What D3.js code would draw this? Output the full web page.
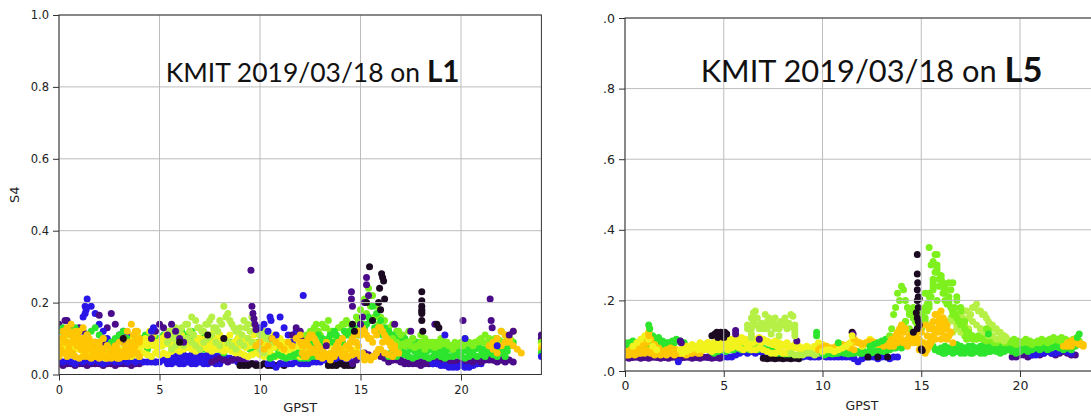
<!DOCTYPE html>
<html>
<head>
<meta charset="utf-8">
<script src="https://cdn.jsdelivr.net/npm/d3@7"></script>
<style>
  body { margin: 0; background: #fff; }
  svg text { font-family: "DejaVu Sans", sans-serif; }
</style>
</head>
<body>
<svg id="chart" width="1091" height="416"></svg>
<script>
// S4 samples, one track per satellite pass: [colour index, start hour, S4 x100 every STEP hours]
const STEP = 0.2;
const xTicks = [0, 5, 10, 15, 20];
const yTicks = [0, 0.2, 0.4, 0.6, 0.8, 1.0];
const satColors = ['#1c0a22', '#4b0c8c', '#2a16e6', '#2ee52e', '#7ef01e', '#b6f046', '#f2f21e', '#ffc604'];

const l1Tracks = [
  [1, 0, [3,2.5,3,3,2.5,3,3,2.5,3,3,3,2.5,3,3,2.5,3,3,3,2.5,3,3]],
  [2, 0, [4,3.5,4,3.5,3,4,3.5,4,3.5,4,3.5,3,3.5,4,3.5,3.5,4,3.5,4,3.5,4,3.5,3.5,3.5,3.5]],
  [2, 4.8, [3.5,3.5,4,4,4.5,5,5,5.5,5,5.5,6,5.5,5,5.5,5,5,4.5,5,4.5,4,4,3.5]],
  [2, 5.4, [3,3,3.5,3,3,3.5,3,3,3.5,3,3,3.5,3,3]],
  [2, 5.5, [4,4.5,4,4.5,5,4.5,4,4.5,5,4.5,4,4.5,5,4.5,4,4.5,4,3.5]],
  [1, 7.6, [3.5,4,4.5,4,3.5,4,4.5,4,3.5,3,3,3]],
  [0, 9, [2.5,2.5,2.5,3,2.5,2.5,3,2.5,2.5,2.5,3,2.5]],
  [2, 10.4, [3,3,2,3,3,3,3,3.5,3,3,3,3.5,3.5,3.5,4,3.5,4,4,4.5,4,4,3.5]],
  [0, 13.4, [2.5,2.5,2.5,3,2.5,2.5,2.5]],
  [1, 14.6, [3,4,5,6,5.5,5,6,5,4.5,5,4,4,3.5,3,3,3,3,2.5,3,3,3,3,3,3,3,3,3,3,3,3,3,3]],
  [1, 16.4, [3.5,4,4.5,4,3.5,4,4.5,4,3.5,4,4.5,4,4,3.5,4,4.5,4,3.5,4,4,4.5,4,3.5,4,4.5,4,4,4.5,4,3.5]],
  [2, 18.6, [3,3,2.5,2.5,2,2,2,2.5,2,2,2.5,3,3]],
  [1, 20.6, [3.5,4,3.5,4,4.5,4,3.5,4,4.5,4,3.5]],
  [1, 0, [14,12,15,13,11,13,12,10,9,9,8,9,13,17,14,11,9,8,9,10,9]],
  [2, 0.8, [10,12,16,21,19,17,14,12,10,9,8,10,12,11,9,8,10]],
  [3, 0, [12,13,11,12,13,10,9,11,12,13,11,10,8,9,10,11,12,10,9,8,7]],
  [3, 4, [8,9,7,10,8,9,11,10,8,7,9,8,10,12,9,8,7,9,10,8,7,6,8,9,7,8,9,10,8,7,6,7,8,9,10,8,7,6,5,5,4.5,4.5,4.5,5,5]],
  [3, 4.1, [10,11,9,12,10,8,9,11,10,9,12,11,10,9,8,10,11,9,8,7,9,10,8,9,10,9,8,7,8,9,10,11,9,8,7]],
  [6, 0, [7,8,7,9,8,7,6,7,8,7,6,7,6,5,6,7,6,7,8,7,6]],
  [6, 0.1, [9,10,8,7,9,10,8,6,5,6,5,4.5,5,5.5,5,6,5,6,7,8]],
  [6, 3.4, [6,7,8,7,9,8,10,9,8,9,10,8,9,11,10,9,8,9,10,9,8,9,10,11,10,9,8,7,8,9,10,9,8,9,8,7,8,9,10,9,8,7,8,9,8,7,6,7,8,9,8,9,10,9,8,7,6,7]],
  [6, 3.5, [7,8,7.5,8,9,8.5,8,7.5,8,8.5,9,8,7.5,8,9,8,7.5,8,8.5,8,7.5,8,9,8,7,7.5,8,8.5,8,7.5,8,9,8.5,8,7.5,7,7.5,8,7,6.5,7,7.5,7,6.5,7]],
  [6, 3.6, [5,5.5,5,6,5.5,5,6,5.5,6,5.5,6.5,7,6.5,7,7.5,7,6.5,7,7.5,7,6.5,7,7,6.5,7,6.5,6,6,5.5,5,5.5,6,5.5,5,6,5.5,5,6,5.5,5,6,5.5,5,6,5.5]],
  [6, 3.7, [10,11,9,10,12,11,9,10,11,12,10,9,11,10,12,11,10,9,10,11,12,10,9,10,11,9,10,11,10,9,11,12,10,9,10,11,10,9,8,9,10,11,9,10,8]],
  [5, 5.4, [9,11,13,12,10,14,16,15,13,12,14,16,13,15,19,17,14,12,13,15,14,16,13,11,12,10,9]],
  [5, 5.5, [12,10,11,13,14,12,11,13,12,14,15,13,12,14,16,15,13,12,11,13,12,14,12,11,10,9]],
  [5, 5.6, [7,8,9,8,10,9,8,7,9,10,11,9,8,10,9,8,7,9,8,10,9,8,7,6]],
  [3, 10.5, [4.5,5,5.5,5,4.5,5,5.5,6,5.5,5,5.5,6,5.5,5]],
  [2, 10, [13,14,12,10,11,16,13,11,9,12,10,8,9,7]],
  [1, 11.6, [11,13,12,10,9]],
  [1, 4.6, [10,12,14,13,11,14,12,10,9]],
  [4, 12.2, [9,10,12,14,11,13,15,12,10,13,14,12,14,16,18,21,24,22,19,16,15,13,14,12,11,10,12,10,9,11,10,9,8,9,8,9,8]],
  [4, 12.3, [11,12,13,12,14,13,12,11,13,14,15,14,13,15,14,17,19,16,14,13,12,11,10,12,11]],
  [3, 12.5, [9,10,11,10,9,11,12,10,9,11,12,13,11,12,14,15,13,12,11,10,9,8,9,10,8]],
  [3, 12.6, [7,8,9,8,10,9,11,10,12,11,13,12,14,13,16,19,17,15,13,12,11,10,9,10,9,8,9,8,7,8,7,8,7,6,7,8,7,6,7,6,7,8,7,6,7,8,9,8,7,8,9]],
  [3, 16.4, [5,5.5,5,6,5.5,5,4.5,5,5.5,5,4.5,5,5.5,5,4.5,5,5,5.5,5,4.5,5,5.5,5,5.5,5,6,5.5,5,6,5]],
  [3, 16.5, [6,6.5,7,6.5,6,7,6.5,7,6,6.5,7,6.5,6,7,7.5,7,6.5,6,6.5,7,6.5,7,7.5,7,6.5,7,7,6.5,7,6.5]],
  [4, 16.6, [10,9,11,8,9,10,8,9,7,8,9,8,10,9,8,7,8,9,10,9,8,9,10,11,10,9,10,12,11,10]],
  [4, 16.7, [8,7.5,8.5,9,8,7.5,8,8.5,9,8,7.5,8,8.5,9,8,9,8.5,8,9,8.5,9,9.5,9,8.5,9,10,9.5,9,10,9.5]],
  [7, 0, [5,6,5,5.5,5,4.5,5,5,4.5,5,4.5,5,4.5,4.5,5,4.5,5,5,5.5,6,5]],
  [7, 0, [8,10,9,11,9,12,10,11,8,9,8,7,8,7,6.5,6,6,7,7.5,8,9]],
  [7, 0.1, [7,9,8,10,11,9,8,10,9,7,6,5,6,5.5,5,6,7,8,9,10]],
  [7, 0.1, [10,11,12,9,8,7,9,8,6,7,6,5,5.5,6,7,6,8,9,11,12]],
  [7, 0.2, [12,13,14,12,10,13,11,9,7,9,10,8,7,8,9,10,12,14,12,10]],
  [7, 0.3, [6,7,6,8,7,6.5,7,6,5.5,6,5,5.5,5,4.5,5,5.5,6,7,6]],
  [7, 9.8, [8,9,7,8,10,9,8,7,9,8,10,11,9,8,7,6]],
  [7, 12, [9,8,10,11,9,7,6,5,6,8,7,6,8,10,9,11,12,10,9,11,13,11,9,7,6]],
  [7, 12.1, [6,5,6,7,5,4.5,5,4,5,6,5,4.5,7,9,8,6,5,4,5,7,9,10,8,7,6]],
  [7, 12.1, [8,9,11,10,8,7,9,6,7,9,10,8,9,11,12,13,11,10,12,13,12,10,9,8]],
  [7, 12.2, [5,6,7,6,5,6,5.5,5,6.5,7,6,5,5.5,6,5,4,4.5,5,6,7,6,5.5,5]],
  [7, 21.4, [8,9,10,12,11,9,8,7,6]],
  [7, 21.6, [7,6,8,9,10,12]]
];

// single samples: [colour index, hour, S4 x100]
const l1Points = [
  [2,1.3,19],[2,1.35,18],[2,1.3,17],[1,2.0,16.5],[1,0.3,15],[2,4.6,12],[2,4.7,13],
  [1,9.55,29],[1,9.6,19],[1,9.65,17],[1,9.7,15.5],[1,9.75,14],[1,9.8,12.5],
  [2,12.15,22],[2,10.5,16],[2,10.55,15],[0,8.2,10],[0,7.4,11],[0,6,9],[0,3.2,10],
  [1,14.55,23],[1,14.55,21],[1,14.6,19],[1,15.3,27],[1,15.3,25],[1,15.4,22],[1,15.2,20],[1,15.1,16],[1,15,14],
  [1,16.7,14],[1,17.5,12],[1,18.7,14],[1,20.1,15],[1,21.45,21],[1,21.5,15],[1,21.55,13],[1,13.3,8],
  [0,15.45,30],[0,16.05,28],[0,16.1,27],[0,16.15,26],[0,15.95,24],[0,15.3,20],[0,15.9,20],[0,16,18],
  [0,15.6,15],[0,14.7,12],[0,14.6,14],[0,16.2,21],
  [0,18.05,23],[0,18.05,20.5],[0,18.05,19],[0,18.05,18],[0,18.05,17.5],[0,18.05,17],[0,18.05,15],[0,18.1,12],
  [0,18.8,14],[0,18.9,13],[2,19.2,11],[2,20.2,10],[2,21.8,8],[1,22.4,11],[1,22.6,12],
  [1,24,11],[1,24,10],[4,24,9],[6,24,8],[7,24,7],[3,24,6],[2,24,5]
];

const l5Tracks = [
  [2, 4.2, [4,4,4,4.2,4,4,4,4.5,5,5.5,5,5.5,5,5.5,5,4.5,4.2,4,4,4,4.2,4,4,4,4,4.2,4,4,4,4.2,4,4,4,4,4,4.2]],
  [1, 0, [3.8,3.6,3.8,3.9,3.6,3.8,3.6,3.9,3.8,3.6,3.8,3.6,3.9,3.8,3.6,3.8,3.9,3.6,3.8,3.6,3.9,3.8,3.6,3.8,3.6]],
  [0, 7, [3.6,3.5,3.6,3.5,3.6,3.5,3.6,3.5,3.6,3.5]],
  [2, 11.2, [4,4,3.5,2.6,3.5,4,4,4,3.5,4,4,3.5,4,4]],
  [7, 0, [6,7,6.5,7,8,9,10,8,7,6,5,6,7,6,5,6,6.5,7,6,7,7.5,8,7]],
  [7, 0, [5,4.5,5,5.5,5,5,6,5.5,5,4.5,5,5,5.5,5,5,5,5.5,5,5.5,5]],
  [3, 0, [8,8,8.5,8,7.5,8,9,10,9,8,7.5,8,8.5,9,8.5,8]],
  [3, 0.1, [7.5,8,8,7.5,7,7.5,8.5,9,9.5,8.5,8,7.5,8,8.5,8]],
  [7, 0.1, [5.5,6,6.5,7,7.5,8,9,7.5,6.5,5.5,6,6.5,6,5.5,6,7,6.5,6,6.5,7,6.5,7]],
  [7, 0.1, [4.5,5,4.5,5,5.5,6,5,4.5,5,5.5,4.5,5,4.5,5,5.5,4.5,5,5.5,5]],
  [6, 0.4, [7,8,9,10,9,7,6]],
  [3, 4.4, [5.5,6,6.5,6,6,6.5,7,6.5,7,6.5,6,6.5,7,6.5,6,6,5.5,5.5,5,5,5]],
  [3, 4.5, [5,5.5,6,5.5,6,6,6.5,6,6.5,6,6.5,6,6.5,6,5.5,5.5,5,5,4.8,4.8]],
  [6, 2.8, [6,6.5,7,7.5,7,8,7.5,8,7,7.5,8,8.5,8,9,8.5,8,9,8.5,8,9,9.5,9,8.5,8,8.5,8,7.5,8,7,7.5,7,6.5,7,6.5,7,8,7.5,7]],
  [6, 2.9, [5,5.5,6,6.5,6,7,6.5,7,6.5,7,7.5,8,7.5,8,7.5,8.5,8,7.5,8,8.5,9,8.5,8,7.5,8,7,7.5,7,6.5,7,6,6.5,6,6.5,6,7,6.5]],
  [6, 4, [6,6,5.5,6,6,6.5,6,6.5,7,6.5,6,6.5,6,6,6.5,6,5.5,5,5,5.5,5,5]],
  [6, 4.1, [7,7.5,8,7.5,8,8.5,9,8.5,9,9.5,9,8.5,9,8.5,8,8.5,8,7.5,7,7.5,7,6.5,7,6.5,6]],
  [5, 6.2, [13,15,17,13,12,14,13,15,12,14,13,16,12]],
  [5, 6.2, [12,12,13,12,12.5,12,13,12,12.5,13,12,12.5,13]],
  [5, 6.3, [12.5,14,15,13.5,13,15,14,13,14,15,13.5,12.5]],
  [5, 8.4, [5,4.5,4.5,4.5,5,5,4.5,5,5.5,5]],
  [3, 10, [5,5,5.5,5,5,5.5,5.5,5,5,5.5,5,5,5.5,5.5,5,6,5.5,6,6.5,7,6.5]],
  [3, 10.1, [4.5,5,4.8,5,5.5,5,4.8,5,5.5,5,5.5,5,5.2,5.5,6,5.5,6.5,7,6.5,7]],
  [7, 9.8, [6,6.5,7,6.5,6,7,7.5,7,6.5,6]],
  [7, 9.9, [6.5,7,6,6.5,7,6.5,7,7.5,8,8.5,8,7.5,8,8.5,8,7.5,7,7.5]],
  [6, 10, [5.5,6,6,5.5,6,6.5,7,8,9,8,7,8,9,8]],
  [7, 11.6, [9,8,7.5,8,8.5,8,7.5,8,8.5,7]],
  [3, 12.4, [7,7.5,8,8.5,9,8.5,9,10]],
  [1, 19.6, [4,4,4.5,4.5,4,4.5,5,4.5,5,5.5,5,4.5,5,5.5,5,4.5,4.5]],
  [2, 20.6, [4.5,4.5,5,5,5.5,5,5,5.5,6,5.5,5]],
  [3, 15.6, [7,6,5.5,5,5.5,5,5.5,5,5,5.5,5,5.5,5,5,5.5,6,5.5,5,5.5,6,5.5,5,5.5,6,5.5,6,6.5,6,6.5,6,6.5,7,6.5,6,6.5,6,7,7.5]],
  [3, 15.7, [6,5.5,5,5.5,6,5.5,6,5.5,6,5,5.5,6,5.5,6,5.5,6.5,6,5.5,6,6.5,6,5.5,6,6.5,6,6.5,7,6.5,7,6.5,7,7.5,7,6.5,7]],
  [3, 16, [6.5,7,6.5,7,7.5,7,6.5,7,7,6.5,7,7.5,7,6.5,7,7,7.5,7,6.5,7,7.5,7,7,7.5,8,7.5,8,7.5,8,8.5,8,8.5,8]],
  [4, 17.2, [10,11,10,9,12,10,9,8.5,8,9,8,8.5,8,7.5,8,8.5,8,7.5,8,8,8.5,8,8.5,9,8.5,9,8.5,8,9,8.5]],
  [4, 17.3, [9,10,9.5,10,9,8.5,9,8,8.5,9,8,8.5,9,8.5,8,9,8.5,8,8.5,9,8.5,9,9.5,9,9.5,9,8.5,9,9.5]],
  [5, 16.2, [12,14,15,13,16,17,15,18,19,17,16,14,13,12,11,10]],
  [5, 16.3, [13,15,14,16,15,17,16,18,17,16,15,13,12,11,10,9.5]],
  [5, 16.4, [10,11,12,11,13,12,14,13,12,11,10,10,9,9,8.5]],
  [4, 13.4, [10,16,22,24,20,17,15,14,16,22,35,31,28,27,23,20,17,15,14,12,11]],
  [4, 13.5, [12,18,20,23,18,16,14,15,17,19,30,33,26,25,20,18,16,14,13,11]],
  [4, 13.6, [8,10,12,14,12,11,13,12,15,18,25,29,24,22,19,17,15,13,12,10,9]],
  [4, 14.2, [14,16,18,15,13,17,21,24,20,26,23,19,16]],
  [4, 15, [12,14,19,23,33,26,20,25,17,21,18,14]],
  [4, 15.1, [15,17,21,28,24,22,19,23,18]],
  [4, 15.2, [18,22,26,30,27,24,21,25,20,17]],
  [7, 13.4, [8,9,11,13,12,10,9,11,7,6,8,12,16,17,14]],
  [7, 13.5, [9,10,12,11,9,8,10,12,8,7,9,11,14,15,13,11]],
  [7, 13.6, [7,8,9,8,10,9,8,6,5,7,10,12,11,13,10,8]],
  [7, 13.7, [8,9,8,7,9,10,9,7,6,8,9,13,15,12,11]],
  [7, 13.8, [10,11,12,10,8,9,11,13,12,14,11,9,10]],
  [7, 14.9, [6,8,10,13,16,15,12,9]],
  [7, 22.2, [7,8,8.5,9,8,7.5]],
  [7, 22.4, [7,7,8,7.5,7]]
];

const l5Points = [
  [7,1.2,10],[7,1.2,11],[7,1.25,12],[3,1.2,13],[3,1.25,12],[1,2.8,8.5],[1,2.85,8],[2,2.7,2.6],
  [0,4.4,10],[0,4.55,10.5],[0,4.65,11],[0,4.75,10],[0,4.85,11],[0,4.95,10.5],[0,5.05,11],[0,5.15,10.5],[0,4.7,9.5],[0,5,9.5],
  [1,5.6,11.5],[1,5.6,10.5],[1,6.8,9],[1,8.7,8.5],[5,7.1,16],[5,8.5,15.5],[5,6.5,16.5],
  [5,6.4,10.5],[5,6.4,9.5],[5,7.4,10.5],[5,7.8,10],[5,8.6,10],[5,8.6,11],
  [3,9.7,11],[3,9.7,10],[3,10.8,8],[0,11.5,11],[1,11.55,10.5],[6,11.5,10],
  [0,12.3,4],[0,12.8,4],[0,13.3,4],
  [0,14.8,33],[0,14.8,27.5],[0,14.82,25],[0,14.85,21],[0,14.8,20],[0,14.9,20.5],[0,14.85,18],[0,14.8,15],
  [0,14.85,14],[0,14.9,13],[0,14.8,12],[0,15,6.2],[0,15.05,5.8],[0,14.6,11],[0,14.75,16.5],[0,14.8,23],
  [4,18.3,12],[4,18.4,11.5],[3,18.4,10.5],[3,23,10.5],[3,22.9,9.5]
];

const svg = d3.select('#chart');

const panels = [
  {id: 'l1', band: 'L1', tracks: l1Tracks, points: l1Points,
   left: 59, right: 541.4, top: 15, bottom: 374.5, cut: 0,
   tickFont: 11.5, tickPad: 5, labelFont: 13, labelY: 412,
   titleX: 165.7, titleY: 82, titleW: 294, ylabel: true},
  {id: 'l5', band: 'L5', tracks: l5Tracks, points: l5Points,
   left: 625, right: 1099, top: 18, bottom: 371, cut: 603,
   tickFont: 12.5, tickPad: 4.5, labelFont: 12.5, labelY: 410,
   titleX: 700.7, titleY: 82, titleW: 342, ylabel: false}
];

function drawPanel(p) {
  const x = d3.scaleLinear().domain([0, 24]).range([p.left, p.right]);
  const y = d3.scaleLinear().domain([0, 1]).range([p.bottom, p.top]);

  const defs = svg.append('defs');
  defs.append('clipPath').attr('id', `plot-${p.id}`)
    .append('rect')
    .attr('x', p.left).attr('y', p.top)
    .attr('width', p.right - p.left).attr('height', p.bottom - p.top);

  const g = svg.append('g');
  if (p.cut) {
    // the second image is cropped on its left side
    defs.append('clipPath').attr('id', `cut-${p.id}`)
      .append('rect').attr('x', p.cut).attr('y', 0).attr('width', 1091 - p.cut).attr('height', 416);
    g.attr('clip-path', `url(#cut-${p.id})`);
  }

  const pts = p.tracks.flatMap(([c, t0, vals]) => vals.map((v, i) => ({c, t: t0 + i * STEP, v: v / 100})))
    .concat(p.points.map(([c, t, v]) => ({c, t, v: v / 100})));

  g.append('g')
    .attr('clip-path', `url(#plot-${p.id})`)
    .selectAll('circle')
    .data(pts)
    .join('circle')
    .attr('cx', d => x(d.t))
    .attr('cy', d => y(d.v))
    .attr('r', 3.5)
    .attr('fill', d => satColors[d.c]);

  // grid on top of the dots, like matplotlib
  const grid = g.append('g').attr('stroke', '#bdbdbd').attr('stroke-width', 1);
  grid.selectAll('.vx').data(xTicks).join('line')
    .attr('x1', d => x(d)).attr('x2', d => x(d))
    .attr('y1', p.top).attr('y2', p.bottom);
  grid.selectAll('.hy').data(yTicks).join('line')
    .attr('x1', p.left).attr('x2', p.right)
    .attr('y1', d => y(d)).attr('y2', d => y(d));

  g.append('rect')
    .attr('x', p.left).attr('y', p.top)
    .attr('width', p.right - p.left).attr('height', p.bottom - p.top)
    .attr('fill', 'none').attr('stroke', '#333').attr('stroke-width', 1);

  const xAxis = g.append('g')
    .attr('transform', `translate(0,${p.bottom})`)
    .call(d3.axisBottom(x).tickValues(xTicks).tickSize(6).tickPadding(p.tickPad));
  const yAxis = g.append('g')
    .attr('transform', `translate(${p.left},0)`)
    .call(d3.axisLeft(y).tickValues(yTicks).tickFormat(d3.format('.1f')).tickSize(6).tickPadding(4));
  [xAxis, yAxis].forEach(a => {
    a.select('.domain').remove();
    a.selectAll('line').attr('stroke', '#333');
    a.selectAll('text').attr('fill', '#222')
      .style('font-family', '"DejaVu Sans", sans-serif')
      .style('font-size', `${p.tickFont}px`);
  });

  g.append('text')
    .attr('x', (p.left + p.right) / 2)
    .attr('y', p.labelY)
    .attr('text-anchor', 'middle')
    .attr('fill', '#222')
    .style('font-size', `${p.labelFont}px`)
    .text('GPST');

  if (p.ylabel) {
    g.append('text')
      .attr('transform', `translate(19,${(p.top + p.bottom) / 2}) rotate(-90)`)
      .attr('text-anchor', 'middle')
      .attr('fill', '#222')
      .style('font-size', `${p.labelFont}px`)
      .text('S4');
  }

  // title pasted on the image
  const title = g.append('text')
    .attr('x', p.titleX).attr('y', p.titleY)
    .attr('fill', '#111')
    .style('white-space', 'pre')
    .style('font-family', 'Lato, "Open Sans", sans-serif')
    .style('font-size', '26px');
  title.append('tspan').text('KMIT 2019/03/18 on ');
  title.append('tspan').style('font-weight', 'bold').style('font-size', '1.12em').text(p.band);
  const w = title.node().getComputedTextLength();
  title.style('font-size', `${26 * p.titleW / w}px`);
}

panels.forEach(drawPanel);
</script>
</body>
</html>
